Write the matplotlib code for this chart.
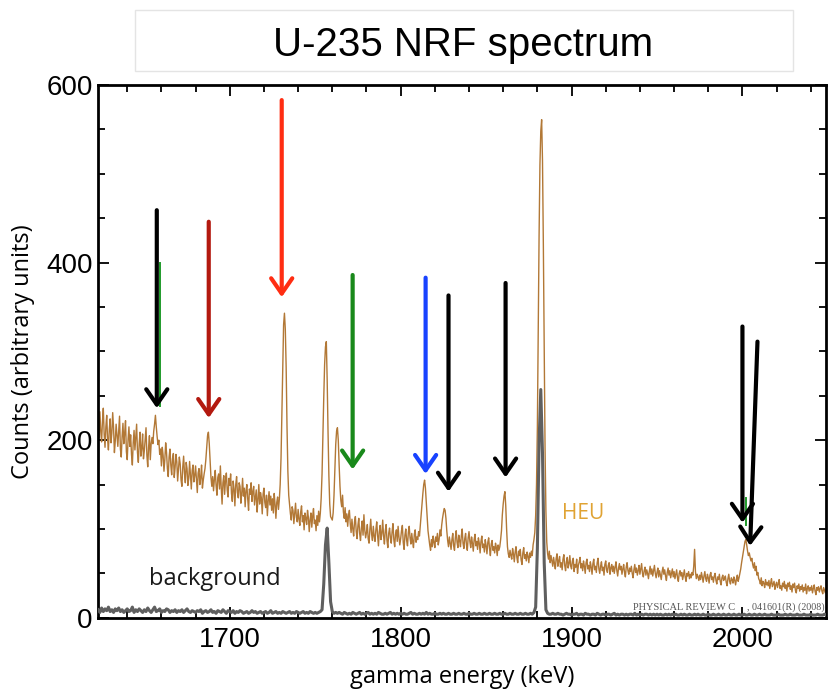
import numpy as np
import matplotlib.pyplot as plt
from matplotlib.ticker import MultipleLocator
from matplotlib.patches import Rectangle

# HEU target spectrum: 0.5 keV channels starting at 1623.0 keV
heu_start = 1623.0
heu_step = 0.5
heu_counts = [
    225, 203, 232, 210,                                   # 1623.0
    198, 221, 236, 207, 192, 215, 228, 201, 189, 212,     # 1625
    224, 197, 208, 231, 214, 186, 199, 218, 205, 193,     # 1630
    211, 227, 190, 181, 204, 219, 196, 208, 222, 187,     # 1635
    178, 201, 215, 193, 206, 184, 172, 197, 211, 189,     # 1640
    203, 218, 186, 175, 196, 209, 182, 191, 207, 179,     # 1645
    188, 201, 214, 183, 170, 192, 205, 178, 196, 203,     # 1650
    196, 210, 218, 228, 215, 204, 195, 200, 184, 190,     # 1655
    171, 192, 183, 165, 178, 197, 186, 168, 159, 181,     # 1660
    190, 172, 161, 179, 185, 158, 169, 184, 176, 154,     # 1665
    167, 181, 173, 155, 148, 170, 182, 163, 152, 175,     # 1670
    168, 149, 157, 176, 161, 145, 166, 172, 153, 160,     # 1675
    171, 156, 141, 163, 168, 150, 158, 172, 146, 155,     # 1680
    162, 168, 178, 192, 205, 209, 196, 176, 158, 148,     # 1685
    159, 143, 156, 166, 149, 138, 158, 162, 145, 171,     # 1690
    147, 128, 152, 160, 139, 155, 163, 144, 136, 157,     # 1695
    149, 162, 140, 131, 154, 145, 126, 150, 159, 141,     # 1700
    135, 152, 148, 129, 140, 157, 137, 146, 125, 143,     # 1705
    150, 134, 121, 145, 139, 152, 131, 142, 148, 127,     # 1710
    136, 144, 119, 133, 150, 128, 141, 135, 117, 139,     # 1715
    146, 130, 124, 138, 115, 132, 142, 127, 137, 121,     # 1720
    134, 118, 140, 128, 112, 130, 136, 122, 133, 150,     # 1725
    180, 232, 290, 330, 343, 325, 282, 215, 165, 138,     # 1730
    128, 117, 110, 125, 121, 106, 118, 129, 113, 108,     # 1735
    122, 111, 104, 119, 126, 108, 115, 99, 118, 112,      # 1740
    105, 121, 113, 97, 110, 118, 102, 114, 123, 106,      # 1745
    110, 98, 115, 104, 120, 108, 118, 135, 162, 205,      # 1750
    248, 285, 305, 311, 268, 210, 160, 128, 114, 112,     # 1755
    110, 118, 138, 165, 195, 210, 214, 200, 172, 148,     # 1760
    132, 125, 138, 119, 112, 124, 108, 117, 103, 115,     # 1765
    121, 106, 96, 111, 100, 92, 108, 114, 97, 89,         # 1770
    104, 112, 95, 87, 101, 109, 93, 116, 99, 90,          # 1775
    96, 105, 89, 84, 100, 111, 94, 87, 103, 92,           # 1780
    86, 99, 108, 93, 81, 97, 104, 88, 95, 110,            # 1785
    92, 83, 98, 105, 87, 79, 95, 101, 90, 84,             # 1790
    97, 106, 88, 80, 94, 99, 86, 103, 91, 82,             # 1795
    89, 98, 104, 85, 77, 93, 100, 87, 81, 96,             # 1800
    103, 90, 83, 95, 86, 79, 94, 99, 85, 91,              # 1805
    88, 97, 92, 104, 115, 128, 140, 150, 155, 146,        # 1810
    130, 112, 98, 90, 82, 76, 88, 80, 92, 85,             # 1815
    79, 91, 86, 95, 82, 88, 99, 92, 104, 112,             # 1820
    118, 123, 121, 112, 98, 87, 80, 91, 84, 77,           # 1825
    88, 95, 81, 76, 90, 98, 85, 79, 93, 87,               # 1830
    80, 92, 100, 84, 78, 89, 95, 82, 76, 90,              # 1835
    97, 86, 79, 91, 84, 75, 88, 94, 81, 86,               # 1840
    77, 90, 84, 73, 86, 92, 79, 83, 74, 88,               # 1845
    81, 72, 85, 90, 78, 70, 83, 87, 76, 80,               # 1850
    73, 84, 79, 70, 82, 76, 80, 88, 98, 116,              # 1855
    128, 137, 142, 126, 100, 80, 72, 68, 76, 70,          # 1860
    66, 78, 72, 63, 74, 80, 68, 62, 75, 70,               # 1865
    77, 65, 60, 73, 79, 67, 71, 64, 74, 69,               # 1870
    62, 73, 68, 75, 70, 82, 88, 96, 115, 150,             # 1875
    215, 320, 430, 510, 548, 561, 515, 420, 300, 190,     # 1880
    120, 85, 72, 66, 75, 62, 70, 64, 58, 68,              # 1885
    61, 55, 67, 72, 58, 64, 69, 57, 62, 54,               # 1890
    66, 71, 59, 53, 63, 68, 56, 61, 70, 58,               # 1895
    55, 64, 67, 52, 60, 57, 66, 50, 59, 63,               # 1900
    68, 56, 61, 53, 64, 58, 50, 62, 66, 55,               # 1905
    59, 52, 63, 57, 49, 61, 66, 54, 58, 51,               # 1910
    62, 67, 55, 50, 58, 63, 53, 57, 48, 60,               # 1915
    64, 54, 51, 59, 62, 49, 56, 60, 52, 58,               # 1920
    50, 57, 63, 53, 47, 56, 61, 54, 58, 49,               # 1925
    55, 60, 51, 46, 57, 62, 53, 49, 56, 52,               # 1930
    58, 50, 45, 54, 60, 51, 56, 48, 53, 59,               # 1935
    49, 55, 61, 50, 46, 53, 57, 48, 54, 50,               # 1940
    44, 52, 58, 49, 55, 47, 53, 59, 50, 45,               # 1945
    51, 56, 46, 53, 48, 43, 52, 57, 49, 54,               # 1950
    47, 42, 51, 56, 48, 53, 45, 50, 55, 46,               # 1955
    52, 44, 49, 54, 45, 41, 50, 53, 47, 51,               # 1960
    43, 48, 54, 46, 41, 50, 47, 52, 44, 49,               # 1965
    45, 51, 48, 58, 77, 52, 44, 49, 46, 42,               # 1970
    48, 43, 51, 46, 40, 47, 52, 44, 41, 49,               # 1975
    45, 39, 48, 51, 43, 46, 40, 47, 50, 42,               # 1980
    38, 46, 43, 49, 41, 37, 45, 48, 42, 44,               # 1985
    47, 40, 36, 44, 49, 41, 38, 45, 43, 39,               # 1990
    46, 42, 37, 44, 48, 41, 45, 50, 55, 62,               # 1995
    68, 74, 80, 86, 88, 82, 75, 70, 73, 68,               # 2000
    64, 67, 60, 56, 62, 53, 58, 48, 51, 44,               # 2005
    42, 38, 45, 36, 41, 39, 34, 43, 37, 40,               # 2010
    36, 42, 33, 39, 44, 35, 38, 41, 32, 37,               # 2015
    40, 34, 38, 43, 33, 36, 31, 39, 35, 41,               # 2020
    33, 37, 30, 39, 35, 40, 32, 36, 29, 38,               # 2025
    34, 39, 31, 28, 36, 33, 38, 30, 35, 32,               # 2030
    37, 29, 34, 31, 38, 27, 33, 36, 30, 34,               # 2035
    31, 36, 28, 33, 37, 30, 26, 34, 31, 35,               # 2040
    29, 33, 36, 30, 27, 34, 31, 28, 33,                   # 2045
]

# Background run (no target): 1 keV channels starting at 1623 keV
bg_start = 1623.0
bg_step = 1.0
background_counts = [
    9, 6, 11, 7, 10, 8, 12,
    7, 9, 6, 10, 8, 11, 7, 9, 6, 8,
    10, 7, 8, 12, 6, 9, 7, 10, 8, 6,
    9, 7, 11, 8, 6, 9, 12, 7, 8, 10,
    6, 8, 7, 10, 9, 6, 8, 7, 9, 6,
    8, 7, 9, 6, 8, 10, 7, 6, 8, 7,
    6, 8, 7, 9, 5, 7, 8, 6, 7, 9,
    6, 7, 5, 8, 7, 6, 9, 7, 5, 8,
    7, 6, 8, 5, 7, 6, 8, 7, 5, 6,
    7, 5, 6, 8, 6, 7, 5, 6, 7, 5,
    6, 7, 5, 6, 8, 5, 6, 7, 5, 6,
    5, 7, 6, 5, 6, 7, 5, 6, 5, 7,
    6, 5, 6, 7, 5, 6, 5, 7, 6, 5,
    6, 5, 6, 7, 9, 38, 82, 101, 62, 18,
    7, 5, 6, 5, 6, 5, 4, 6, 5, 4,
    5, 4, 6, 5, 4, 5, 6, 4, 5, 4,
    5, 6, 4, 5, 4, 5, 4, 6, 5, 4,
    4, 5, 4, 5, 6, 4, 5, 4, 5, 4,
    5, 4, 5, 4, 4, 5, 6, 4, 5, 4,
    4, 5, 4, 5, 4, 6, 4, 5, 4, 4,
    5, 4, 4, 5, 4, 5, 4, 4, 5, 4,
    4, 5, 4, 4, 5, 4, 4, 5, 4, 4,
    5, 4, 4, 5, 4, 4, 5, 4, 4, 5,
    4, 4, 5, 4, 4, 5, 4, 4, 5, 4,
    4, 5, 4, 4, 5, 4, 4, 5, 4, 4,
    5, 4, 4, 5, 4, 4, 5, 4, 6, 12,
    78, 198, 257, 185, 62, 9, 5, 4, 4, 5,
    4, 4, 5, 4, 4, 3, 4, 5, 4, 4,
    3, 4, 4, 5, 3, 4, 4, 3, 5, 4,
    4, 3, 4, 4, 3, 5, 4, 3, 4, 4,
    3, 4, 4, 3, 4, 5, 3, 4, 3, 4,
    4, 3, 4, 3, 4, 4, 3, 5, 3, 4,
    3, 4, 3, 4, 4, 3, 4, 3, 4, 3,
    4, 3, 4, 3, 3, 4, 3, 4, 3, 4,
    3, 4, 3, 3, 4, 3, 4, 3, 3, 4,
    3, 3, 4, 3, 4, 3, 3, 4, 3, 3,
    4, 3, 3, 4, 3, 3, 4, 3, 3, 4,
    3, 3, 4, 3, 3, 4, 3, 3, 4, 3,
    3, 4, 3, 3, 4, 3, 3, 4, 3, 3,
    4, 3, 3, 4, 3, 3, 3, 4, 3, 3,
    3, 4, 3, 3, 3, 4, 3, 3, 4, 3,
    3, 3, 4, 3, 3, 3, 4, 3, 3, 3,
    4, 3, 3, 3, 4, 3, 3, 3, 4, 3,
]

# Line markers: tail (energy, counts) -> head (energy, counts)
arrow_tail_energy = [1657.3, 1687.7, 1730.4, 1771.9, 1814.6, 1828.0, 1861.4, 2000.0, 2008.8]
arrow_tail_counts = [459, 446, 583, 386, 383, 363, 377, 328, 311]
arrow_head_energy = [1657.3, 1687.7, 1730.4, 1771.9, 1814.6, 1828.0, 1861.4, 2000.0, 2004.5]
arrow_head_counts = [236, 225, 361, 167, 162, 142, 158, 107, 81]
arrow_colors = ['black', '#b3190f', '#ff2d12', '#19891b', '#1842ff',
                'black', 'black', 'black', 'black']

# thin green markers partly hidden behind black arrows
hidden_energy = [1659.3, 2002.0]
hidden_top = [400, 135]
hidden_bottom = [238, 104]

heu_energy = heu_start + heu_step * np.arange(len(heu_counts))
bg_energy = bg_start + bg_step * np.arange(len(background_counts))

fig = plt.figure(figsize=(8.32, 6.91), dpi=100)
ax = fig.add_axes([0.118, 0.106, 0.875, 0.771])

heu_color = '#b27836'
ax.plot(heu_energy, heu_counts, color=heu_color, lw=1.0, zorder=2)
ax.plot(bg_energy, background_counts, color='#5f5f5f', lw=2.2, zorder=3)

for e, t, b in zip(hidden_energy, hidden_top, hidden_bottom):
    ax.plot([e, e], [t, b], color='#1f9a2a', lw=1.4, zorder=4)

for xt, yt, xh, yh, c in zip(arrow_tail_energy, arrow_tail_counts,
                             arrow_head_energy, arrow_head_counts, arrow_colors):
    ax.annotate('', xy=(xh, yh), xytext=(xt, yt),
                arrowprops=dict(arrowstyle='->, head_length=0.55, head_width=0.38',
                                color=c, lw=3.0, shrinkA=0, shrinkB=0,
                                mutation_scale=20),
                zorder=5)

ax.set_xlim(1623, 2049)
ax.set_ylim(0, 600)

ax.xaxis.set_major_locator(MultipleLocator(100))
ax.xaxis.set_minor_locator(MultipleLocator(20))
ax.yaxis.set_major_locator(MultipleLocator(200))
ax.yaxis.set_minor_locator(MultipleLocator(50))
ax.tick_params(which='both', direction='in', top=True, right=True, width=1.3)
ax.tick_params(which='major', length=8)
ax.tick_params(which='minor', length=5)
for s in ax.spines.values():
    s.set_linewidth(2.0)

tick_family = ['Liberation Sans Narrow', 'Liberation Sans', 'DejaVu Sans']
for lab in ax.get_xticklabels() + ax.get_yticklabels():
    lab.set_fontfamily(tick_family)
    lab.set_fontsize(20)
ax.tick_params(axis='x', pad=7)
ax.tick_params(axis='y', pad=4)

label_font = ['Open Sans', 'DejaVu Sans']
ax.set_xlabel('gamma energy (keV)', family=label_font, fontsize=17, labelpad=8)
ax.set_ylabel('Counts (arbitrary units)', family=label_font, fontsize=17, labelpad=8)

ax.text(1653, 44, 'background', family=label_font, fontsize=17,
        color='#1a1a1a', va='center', ha='left')
ax.text(1894.5, 117, 'HEU', family=label_font, fontsize=15,
        color='#e0a333', va='center', ha='left')

serif = ['Liberation Serif', 'DejaVu Serif']
ax.text(1936, 12, 'PHYSICAL REVIEW C', family=serif,
        fontsize=7.5, color='#555555', va='center', ha='left')
ax.text(2002.5, 12, ', 041601(R) (2008)', family=serif,
        fontsize=7.2, color='#555555', va='center', ha='left')

# title panel
fig.patches.append(Rectangle((0.162, 0.897), 0.791, 0.089, transform=fig.transFigure,
                             facecolor='white', edgecolor='#e4e4e4', lw=1.0))
fig.text(0.5565, 0.935, 'U-235 NRF spectrum', family=['Liberation Sans', 'DejaVu Sans'],
         fontsize=29, ha='center', va='center')

fig.savefig('out.png', dpi=100)
